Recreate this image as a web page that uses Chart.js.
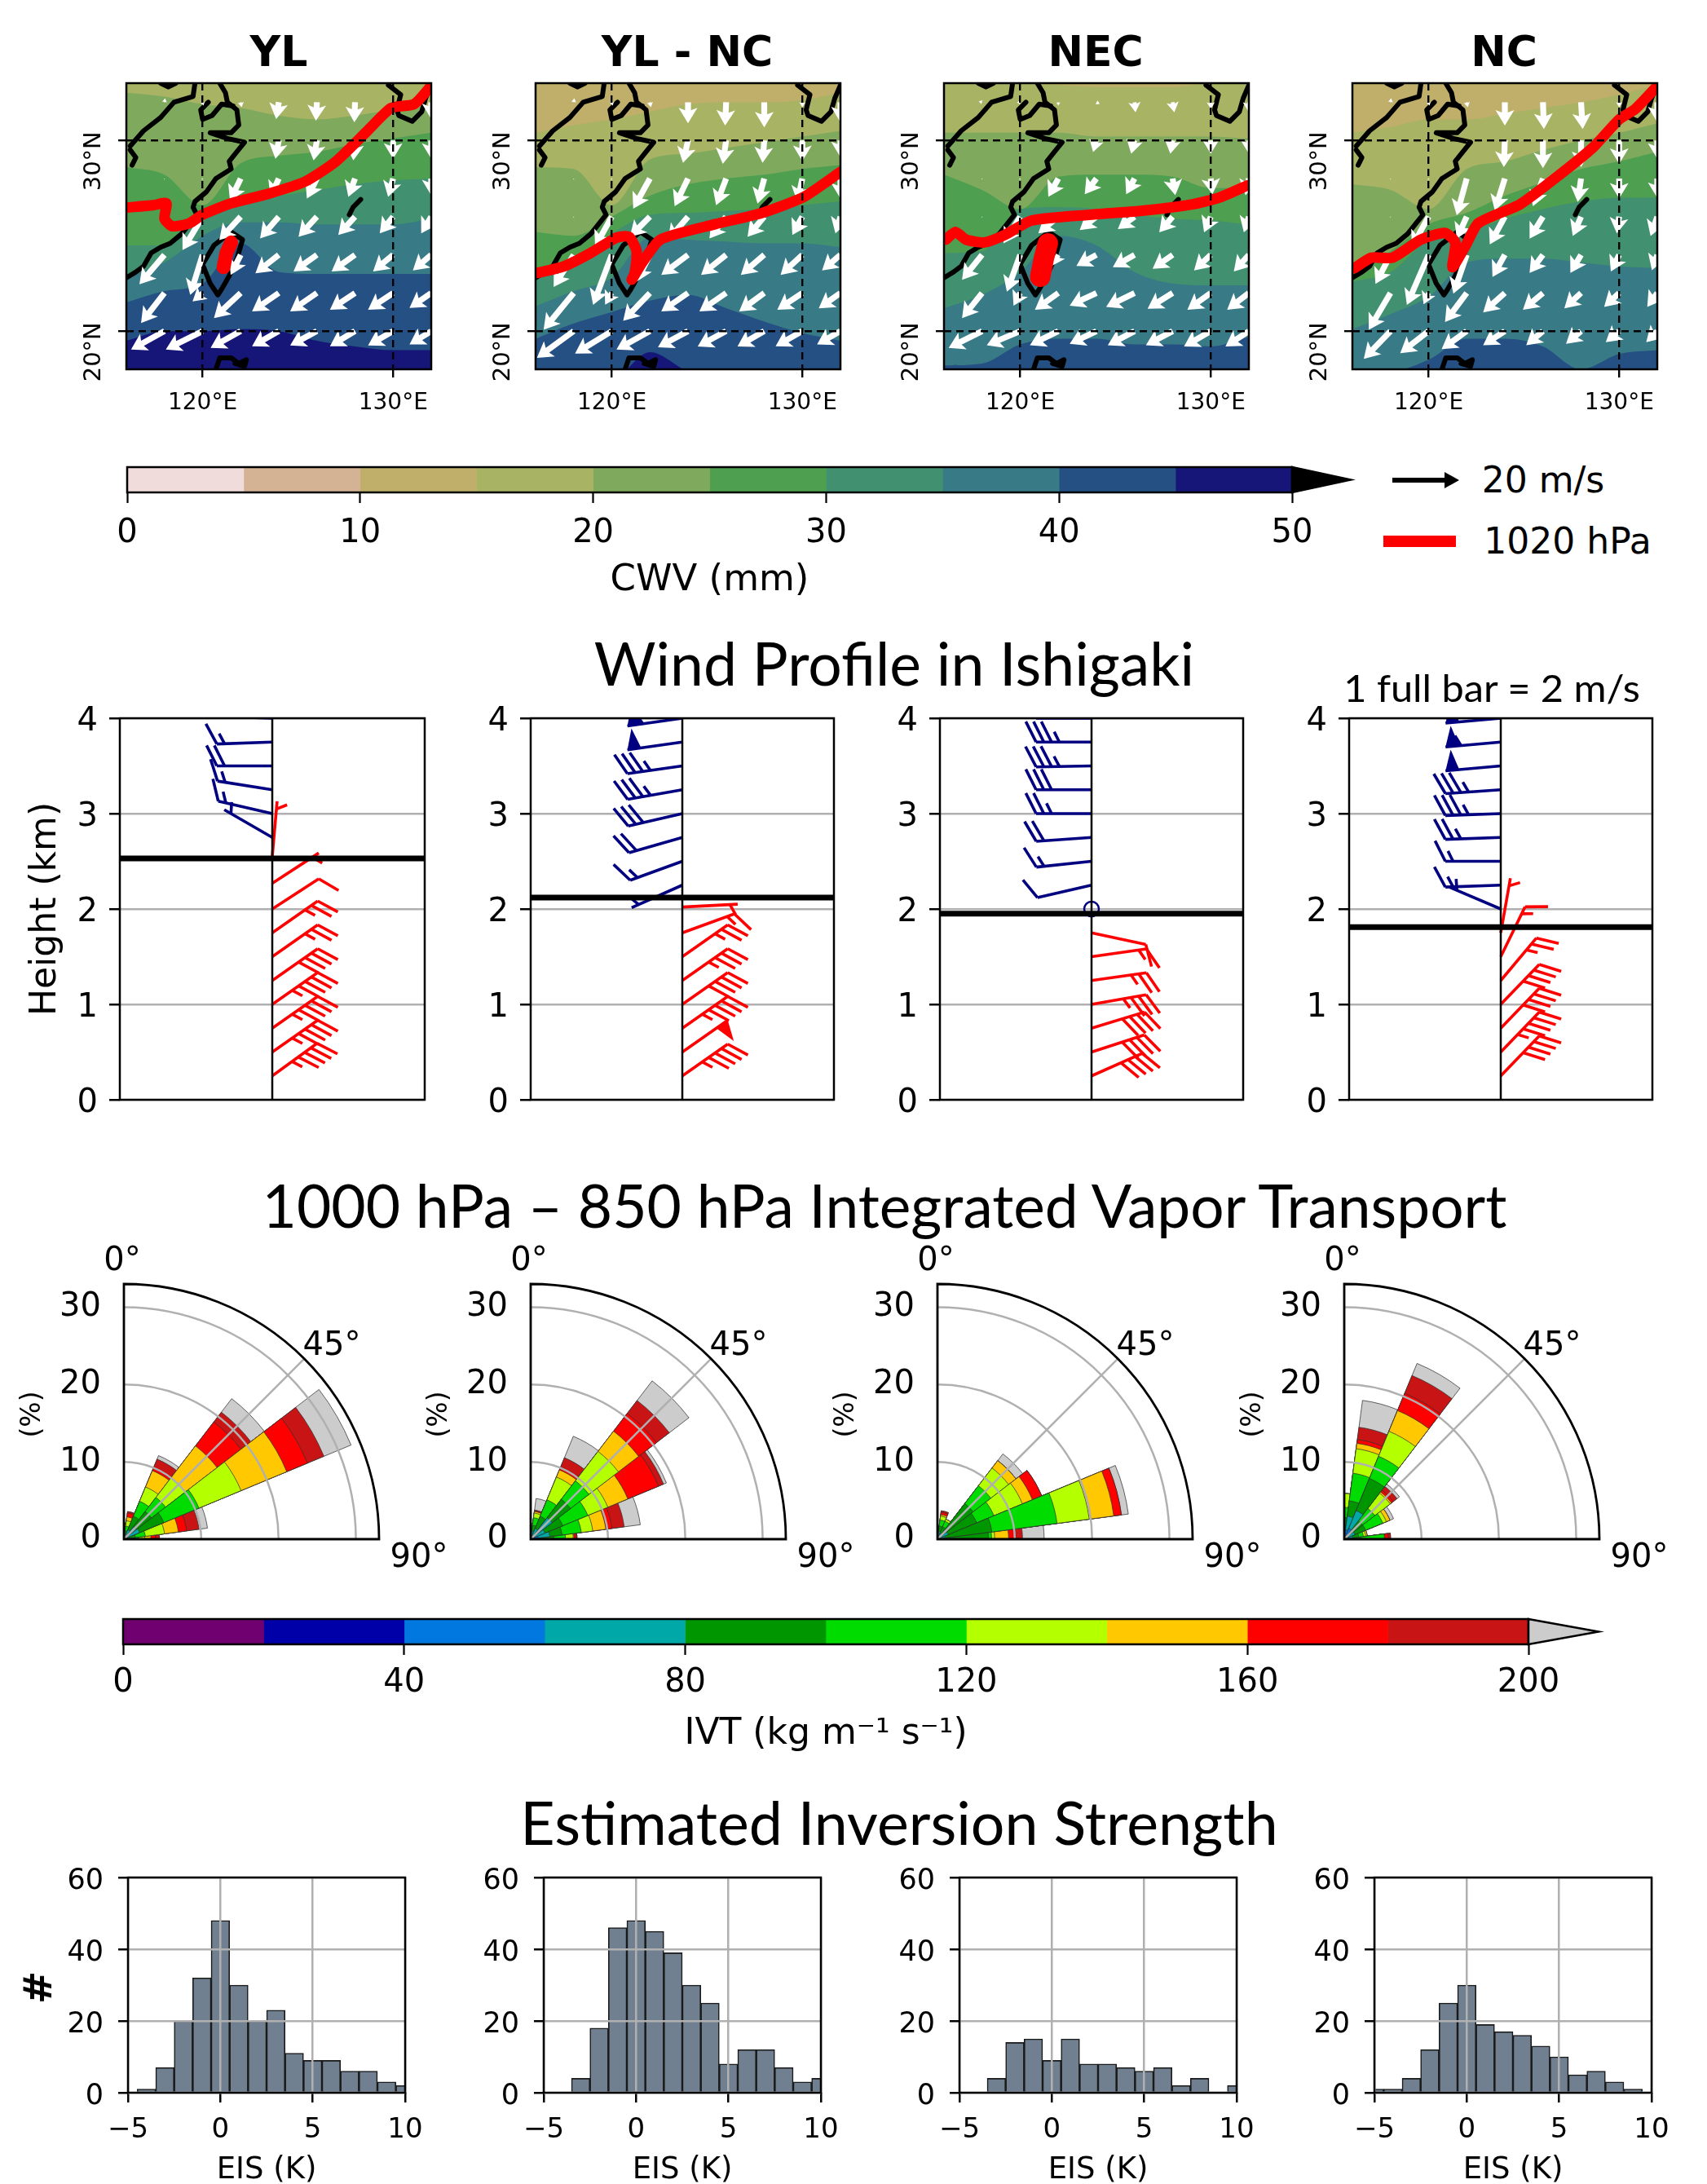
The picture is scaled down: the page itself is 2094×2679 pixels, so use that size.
<!DOCTYPE html>
<html>
<head>
<meta charset="utf-8">
<title>Composite chart</title>
<script src="https://cdn.jsdelivr.net/npm/chart.js@4"></script>
<style>
  html, body { margin: 0; padding: 0; background: #fff; }
  body { position: relative; width: 2094px; height: 2679px; overflow: hidden; font-family: "DejaVu Sans", sans-serif; color: #000; }
  canvas { position: absolute; }
  .txt { position: absolute; white-space: nowrap; line-height: 1; }
</style>
</head>
<body>
<script>
// ---- shared axes and colours
const panelNames = ['YL', 'YL - NC', 'NEC', 'NC'];
const cwvSteps = [5, 5, 5, 5, 5, 5, 5, 5, 5, 5];
const cwvColors = ['#F0DDDB', '#D4B294', '#BFAF6B', '#A9B364', '#7FAA5E', '#4E9F50', '#419170', '#387A85', '#255083', '#151677'];
const ivtSteps = [20, 20, 20, 20, 20, 20, 20, 20, 20, 20];
const ivtColors = ['#700070', '#0000A8', '#0078E0', '#00A8A8', '#009600', '#00DC00', '#B4FF00', '#FFC800', '#FF0000', '#C81414', '#CCCCCC'];
const gridGray = '#b0b0b0';

// ---- CWV contours: latitude of each band's north edge at these longitudes
const contourLons = [116, 118, 120, 122, 124, 126, 128, 130, 132];
const levelsYL = [15, 20, 25, 30, 35, 40, 45];
const contoursYL = [
  [33, 33, 33, 33, 33, 33, 33, 33, 33],
  [32.5, 32.3, 31.9, 31.7, 31.3, 31.1, 31.3, 31.6, 31.8],
  [28.6, 28.2, 26.6, 28.8, 29.2, 29.4, 29.8, 30.1, 30.4],
  [24.5, 24.5, 26.1, 26.9, 27.1, 27.4, 27.7, 27.9, 28.0],
  [22.9, 23.6, 25, 25.7, 25.7, 25.6, 25.6, 25.6, 25.9],
  [21.5, 22.1, 22.5, 24.6, 23.1, 23, 23, 23, 23],
  [19.5, 20, 20, 20.1, 20, 19.5, 19.2, 19, 19]
];
const levelsYLNC = [10, 15, 20, 25, 30, 35, 40, 45];
const contoursYLNC = [
  [33, 33, 33, 33, 33, 33, 33, 33, 33],
  [30.4, 30.8, 31.1, 31.5, 31.9, 32, 32, 32.1, 32.5],
  [28.6, 28.5, 26.6, 29, 29.3, 29.6, 29.9, 30.2, 30.5],
  [25.2, 25, 26, 27.1, 27.7, 28, 28.2, 28.5, 28.7],
  [23, 23.5, 25.1, 26.1, 26.2, 26.3, 26.4, 26.6, 26.8],
  [21.3, 22.1, 22.8, 24.9, 24.8, 24.7, 24.6, 24.6, 24.4],
  [19.6, 20.4, 21, 21.6, 21.9, 21.2, 20.5, 19.9, 19.5],
  [17.5, 17.5, 17.5, 18.9, 17.9, 17.5, 17.5, 17.5, 17.5]
];
const levelsNEC = [10, 15, 20, 25, 30, 35, 40];
const contoursNEC = [
  [33, 33, 33, 33, 33, 33, 33, 33, 33],
  [33, 33, 33, 32.9, 32.8, 32.8, 32.8, 33, 33],
  [30.4, 30.4, 30.4, 30.4, 30.2, 30.2, 30.2, 30.2, 30.1],
  [28.2, 27.4, 26.4, 28.1, 28.2, 28.2, 28.1, 27.5, 27.5],
  [24.1, 24.2, 26.4, 26.5, 26.4, 26.1, 25.9, 25.8, 25.6],
  [21.2, 21.9, 23.1, 25, 24.5, 23.1, 22.5, 22.4, 22.4],
  [18.2, 18.3, 19.3, 19.6, 19.6, 19.3, 19.3, 19.2, 19.7]
];
const levelsNC = [10, 15, 20, 25, 30, 35, 40];
const contoursNC = [
  [33, 33, 33, 33, 33, 33, 33, 33, 33],
  [30.4, 30.7, 31.1, 31.1, 31.4, 31.7, 32, 32.4, 32.9],
  [27.7, 27.4, 26.4, 28.5, 28.9, 29.5, 30, 30.4, 30.9],
  [23, 24.2, 25.6, 26.2, 27.1, 27.8, 28.5, 28.9, 29.4],
  [22.6, 23.1, 24.8, 25.2, 25.9, 26.4, 26.8, 27, 27],
  [20.1, 20.9, 21.8, 23.6, 23.8, 23.8, 23.6, 23.4, 23.3],
  [17.9, 17.9, 18.5, 19.6, 19.6, 19.2, 18, 18.8, 19]
];

// ---- coastlines, lon/lat
const coastChina = [[116, 22.8], [116.5, 23.1], [116.9, 23.4], [117.3, 24.1], [117.8, 24.4], [118.3, 24.6], [118.9, 25.1], [119.3, 25.6], [119.7, 26.1], [119.5, 26.5], [119.6, 26.8], [120.2, 27.3], [120.7, 28], [121.5, 28.5], [121.4, 28.9], [121.8, 29.4], [122.2, 29.9], [121.3, 30.1], [120.4, 30.4], [121.5, 30.4], [121.9, 30.8], [121.8, 31.6], [121.3, 32], [121.2, 32.5], [120.9, 33]];
const coastNorth = [[116.2, 29.7], [116.9, 30.5], [117.8, 31.2], [118.5, 32], [119.5, 32.3], [119.6, 33]];
const coastLake = [[120.3, 32], [119.9, 31.6], [120, 31.1], [120.5, 31.3], [121, 31.9], [121.6, 31.8]];
const coastPoyang = [[116.2, 29.5], [116.5, 29.1], [116.3, 28.7]];
const coastTaiwan = [[121.5, 25.2], [122.1, 24.8], [121.8, 23.8], [121.4, 22.9], [121, 22.2], [120.8, 21.9], [120.4, 22.5], [120, 23.5], [120.6, 24.5], [121.5, 25.2]];
const coastOkinawa = [[128.3, 26.9], [127.9, 26.5], [127.7, 26.1]];
const coastKyushu = [[129.75, 32.9], [130.4, 32.4], [130.2, 31.6], [130.3, 31.3], [131, 31], [131.5, 31.5], [131.7, 32.2], [132, 32.9]];
const coastLuzon = [[120.7, 18], [120.9, 18.6], [121.5, 18.6], [121.9, 18.3], [122.3, 18.5], [122.2, 18.15], [121.7, 18.3]];
const coastTopBump = [[117.8, 33], [118.2, 32.8], [118.6, 33]];
const coastLines = [coastChina, coastNorth, coastLake, coastPoyang, coastTaiwan, coastOkinawa, coastKyushu, coastLuzon, coastTopBump];

// ---- 1020 hPa isobars
const isobarYL = [[116.05, 26.48], [117.4, 26.6], [118.1, 26.7], [118, 25.9], [118.4, 25.5], [119.3, 25.65], [120, 26.1], [121.5, 26.7], [123.45, 27.2], [125.4, 27.85], [127, 28.9], [128.65, 30.5], [129.9, 31.7], [131.1, 31.9], [131.95, 32.8]];
const isobarYLNC = [[116.1, 23.05], [117.5, 23.4], [118.9, 24.1], [120.25, 24.9], [120.9, 24.95], [121.3, 24.2], [121.2, 23.05], [121.05, 22.7], [121.6, 23.6], [122.55, 24.8], [125.4, 25.6], [127.9, 26.2], [130.1, 27.05], [132, 28.35]];
const isobarNEC = [[116.1, 24.8], [116.6, 25.2], [117.15, 24.8], [118.1, 24.65], [119.2, 25.05], [120.6, 25.8], [123.6, 26.1], [126.3, 26.3], [129.05, 26.65], [130.45, 27], [131.95, 27.65]];
const isobarNC = [[116.1, 23.3], [117, 23.85], [118.1, 23.85], [119.6, 24.8], [120.85, 25.15], [121.4, 24.65], [121.25, 23.35], [121.95, 24.5], [122.6, 25.65], [124.8, 26.65], [126.75, 28.1], [128.65, 29.65], [130, 31.1], [130.85, 31.65], [132, 32.85]];
const blobYL = [[121.5, 24.65], [121.25, 24.1], [121.1, 23.35]];
const blobNEC = [[121.45, 24.6], [121.25, 23.85], [121.05, 22.85]];

// ---- wind arrows in m/s, rows are windLats, columns are windLons
const windLons = [118, 120, 122, 124, 126, 128, 130, 132];
const windLats = [32, 30, 28, 26, 24, 22, 20];
const windUYL = [
  [0.2, 0.3, 0.3, -0.8, -0.3, -0.2, 0, 0],
  [0, 0, 0, -1, -1, -0.5, 0, 0],
  [0, -0.2, -3.2, -2.5, -3, -2, -1.5, 0],
  [0, -6, -6.4, -5.6, -5.5, -5, -4, -3],
  [-7.5, -3.7, -3, -7, -7, -7, -6, -5.5],
  [-7, -3, -8, -8, -8, -7.5, -7.5, -6.5],
  [-10, -11, -9, -8, -8, -7.5, -7.5, -6.5]
];
const windVYL = [
  [1.2, -1, -1.5, -5, -5.5, -6, -1.5, -5],
  [-0.4, -0.4, -0.5, -5.5, -6, -6, -5.5, -5.5],
  [-0.3, -0.4, -6.7, -5.5, -6, -5.5, -5.5, -5],
  [-0.3, -10, -7, -6.5, -6, -5.5, -5, -5],
  [-8.8, -12, -6, -5.5, -5, -5, -5, -4.7],
  [-9, -2.5, -7.5, -5.5, -5.5, -5, -5, -4.5],
  [-5.5, -5.5, -5, -4.5, -4.3, -4.5, -4.3, -4]
];
const windUYLNC = [
  [0.2, 0.3, 0.3, 0, -0.3, 0, 0, 0],
  [0, 0, 0, -1.5, -1, -0.5, 0, 0],
  [0, -0.2, -5, -4, -3, -2, -1.5, 0],
  [0, -5, -6, -6, -5, -5, -3, -1.5],
  [-6, -5.6, -4, -8, -7.5, -7, -6.5, -5.5],
  [-9, -2, -8, -8, -8, -7.5, -7.5, -6.5],
  [-11, -11, -10, -9, -8.5, -8, -8, -7]
];
const windVYLNC = [
  [1.2, -1, -1.5, -6.3, -7, -7.5, -1.5, -6],
  [-0.4, -0.4, -0.5, -6.7, -7, -6.7, -6.2, -5],
  [-0.3, -0.4, -9, -8.3, -8, -7.5, -7, -6],
  [-0.3, -9, -6, -7, -6.5, -6, -5.5, -5],
  [-9.6, -15, -8, -6, -6, -6, -6, -4.7],
  [-11, -3.5, -8.3, -5.5, -5.5, -5.5, -5, -4.6],
  [-8, -6.7, -5.5, -4.8, -4.6, -4.6, -4.5, -4]
];
const windUNEC = [
  [-1, -1, 0, 1, 0.3, 0.5, 0, 0],
  [0, 0, 0, -1, -1, -0.7, 0, 0],
  [0, -0.2, -3, -3.5, -2.5, 0.8, 0.5, -1],
  [0, -5, -6, -5, -5, -4, -2, -1.5],
  [-6, -4, -2, -6, -6.5, -6, -5, -4.5],
  [-6, -2, -7, -8, -8.5, -7.5, -7, -6.5],
  [-10, -10, -8.5, -8, -8, -8, -8, -7]
];
const windVNEC = [
  [0.3, 0, -1, -0.5, -3, -3, -2, -3],
  [-0.4, -0.4, -0.5, -3.5, -4, -4, -4, -4],
  [-0.3, -0.4, -5.5, -4.7, -4.7, -5, -4.7, -5],
  [-0.3, -8, -5, -4, -3.7, -4.7, -4.7, -4.7],
  [-7.5, -11, -3.3, -3.3, -3.7, -4.2, -4.7, -5],
  [-7.5, -3.8, -5, -3.8, -4.2, -4.7, -5, -5],
  [-5, -4.2, -4.2, -3.8, -4.2, -4.2, -4.6, -4.6]
];
const windUNC = [
  [0.2, 0.3, 0.3, 0, 0.3, 0.5, 0, 0],
  [0, 0, 0, -0.3, 0, 0, 0, 0],
  [0, -0.2, -3, -3, -3, -1, 0, 0],
  [0, -5, -3, -4.5, -4, -2.5, -0.7, -2],
  [-4.5, -6.5, -4, -3.7, -4, -3.2, -2.5, -1.6],
  [-6.5, -1.5, -6.5, -6.5, -6, -5, -4.5, -3],
  [-8, -8.5, -7.5, -6.5, -5, -4.5, -4, -3.3]
];
const windVNC = [
  [1.2, -1, -1.5, -7, -8, -8, -1.5, -6],
  [-0.4, -0.4, -0.5, -8, -8.3, -8, -7, -5.5],
  [-0.3, -0.4, -11, -9.6, -8.3, -7, -6, -5.8],
  [-0.3, -9, -6.6, -8.3, -6.6, -5.8, -5, -5.8],
  [-8.7, -15, -11.6, -6.6, -5.4, -5.4, -5, -4.6],
  [-11, -3.4, -8.7, -5.8, -5, -4.6, -4.2, -4.2],
  [-8.3, -6.6, -5.4, -4.2, -4.2, -3.8, -3.3, -3.3]
];

// ---- Ishigaki wind barbs: height km, direction deg, speed m/s
const blueHYL = [4, 3.75, 3.5, 3.25, 3, 2.75];
const blueDirYL = [272, 268, 270, 279, 283, 300];
const blueSpdYL = [3, 3, 4, 3, 3, 1];
const redHYL = [2.55, 2.27, 2, 1.75, 1.5, 1.25, 1, 0.75, 0.5, 0.25];
const redDirYL = [5, 57, 57, 55, 55, 55, 55, 55, 55, 54];
const redSpdYL = [1, 1, 2, 5, 5, 8, 9, 9, 9, 9];
const blueHYLNC = [4, 3.75, 3.5, 3.25, 3, 2.75, 2.5, 2.25];
const blueDirYLNC = [262, 262, 262, 260, 257, 254, 250, 246];
const blueSpdYLNC = [12, 10, 7, 7, 6, 4, 3, 1];
const redHYLNC = [2.02, 1.75, 1.5, 1.25, 1, 0.75, 0.5, 0.25];
const redDirYLNC = [87, 70, 55, 55, 55, 55, 55, 55];
const redSpdYLNC = [1, 3, 5, 7, 8, 9, 10, 9];
const blueHNEC = [4, 3.75, 3.5, 3.25, 3, 2.75, 2.5, 2.25, 2];
const blueDirNEC = [270, 270, 269, 270, 270, 266, 264, 257, 0];
const blueSpdNEC = [7, 7, 7, 6, 5, 4, 3, 2, 0];
const redHNEC = [1.75, 1.5, 1.25, 1, 0.75, 0.5, 0.25];
const redDirNEC = [102, 82, 82, 80, 73, 72, 66];
const redSpdNEC = [2, 3, 5, 7, 8, 8, 8];
const blueHNC = [4, 3.75, 3.5, 3.25, 3, 2.75, 2.5, 2.25, 2];
const blueDirNC = [265, 265, 265, 266, 268, 268, 270, 268, 293];
const blueSpdNC = [10, 11, 10, 7, 7, 5, 3, 3, 1];
const redHNC = [1.75, 1.5, 1.25, 1, 0.75, 0.5, 0.25];
const redDirNC = [10, 26, 40, 44, 44, 44, 44];
const redSpdNC = [1, 3, 5, 8, 8, 9, 8];
const inversionHeights = [2.53, 2.12, 1.95, 1.81];

// ---- IVT roses: rows are direction bins, columns are ivtColors classes (% frequency)
const roseDirs = [0, 15, 30, 45, 60, 75, 90];
const roseYL = [
  [0, .1, .1, .2, .3, .4, .5, .3, .2, 0, 0],
  [0, .1, .2, .3, .5, .6, .7, .5, .5, .2, 0],
  [0, 0, .3, 1, 1.9, 2.1, 2, 2.3, .3, 1.3, .5],
  [0, 0, .4, 1.6, 2.5, 2.3, 3.2, 5.2, 3.9, 1.6, 2.2],
  [0, 0, .5, 1.7, 3.4, 4.9, 5.9, 6.4, 2.9, 2.3, 3.8],
  [0, 0, .2, .3, 1, 1.3, 2.5, 1.8, 1.1, 1.6, 1.1],
  [0, 0, .2, .3, .6, .8, .8, .8, .6, .5, 0]
];
const roseYLNC = [
  [0, 0, .3, .5, .5, .5, .2, 0, 0, 0, 0],
  [0, 0, .3, .7, .8, 1, .6, .2, .1, .1, 1.5],
  [0, 0, .3, 1.2, 1.7, 2.3, 3.2, 1, .4, 1.3, 3],
  [0, 0, .5, 3, 3, 3, 4.8, 3.3, 2.9, 2.1, 3.2],
  [0, 0, .4, 1.6, 2.5, 3.5, 2.8, 2.8, 4.3, .7, .4],
  [0, 0, 1, 1.5, 1.6, 2.5, 1.5, 1.7, .8, 1.6, 2.1],
  [0, 0, .5, 1, 1.5, 1.5, 1, .1, .3, .1, 0]
];
const roseNEC = [
  [0, .1, .2, .5, .6, .2, 0, 0, 0, 0, 0],
  [0, .1, .3, .6, .7, .8, .5, .2, .3, .2, 0],
  [0, 0, .2, .6, .9, .8, .3, 0, 0, 0, 0],
  [0, 0, .4, 1.1, 4.3, 2.9, 2.9, 1.2, 0, 0, 1.1],
  [0, 0, .4, 1.1, 4, 2.4, 4, 1.4, 1.3, 0, 0],
  [0, 0, .3, .7, 6.1, 8.5, 4.2, 3.2, 1, 0, .9],
  [0, 0, .3, 1.2, 5.1, .4, .4, 1.8, .9, .9, 2.8]
];
const roseNC = [
  [0, .1, .5, 1, 1.2, 1.3, 1.8, 0, 0, 0, 0],
  [0, .2, 1, 1.8, 2, 3.6, 3.2, .7, .5, 1.6, 3.5],
  [0, .3, 1.2, 2.5, 4.5, 3.1, 3.5, 2.9, 2.4, 2.5, 1.7],
  [0, .1, .4, 1, 1.5, 2, 2.5, .2, .3, .6, .4],
  [0, .1, .4, 1, 1.5, 2.4, .5, .5, 0, 0, .5],
  [0, .1, .4, .6, .8, .6, .3, .2, 0, 0, 0],
  [0, 0, .4, .8, 1, 3, 0, 0, .5, .3, 0]
];
const roseTicks = [0, 10, 20, 30];

// ---- EIS histograms
const eisBins = [-5, -4, -3, -2, -1, 0, 1, 2, 3, 4, 5, 6, 7, 8, 9, 10];
const eisYL = [0, 1, 7, 20, 32, 48, 30, 20, 23, 11, 9, 9, 6, 6, 3, 2];
const eisYLNC = [0, 0, 4, 18, 46, 48, 45, 39, 30, 25, 8, 12, 12, 7, 3, 4];
const eisNEC = [0, 0, 4, 14, 15, 9, 15, 8, 8, 7, 6, 7, 2, 4, 0, 2];
const eisNC = [1, 1, 4, 12, 25, 30, 19, 17, 16, 13, 10, 5, 6, 3, 1, 0];

Chart.defaults.font.family = '"DejaVu Sans"';
Chart.defaults.color = '#000';
Chart.defaults.animation = false;
Chart.defaults.responsive = false;
Chart.defaults.plugins.legend.display = false;
Chart.defaults.plugins.tooltip.enabled = false;

const pts = list => list.map(p => ({ x: p[0], y: p[1] }));

function makeCanvas(x, y, w, h, m) {
  const c = document.createElement('canvas');
  c.width = m.l + w + m.r;
  c.height = m.t + h + m.b;
  c.style.left = (x - m.l) + 'px';
  c.style.top = (y - m.t) + 'px';
  document.body.appendChild(c);
  return c;
}

function text(str, cx, cy, size, extra) {
  const o = extra || {};
  const el = document.createElement('div');
  el.className = 'txt';
  el.textContent = str;
  el.style.fontSize = size + 'px';
  if (o.bold) el.style.fontWeight = 'bold';
  if (o.family) el.style.fontFamily = o.family;
  el.style.left = cx + 'px';
  el.style.top = cy + 'px';
  document.body.appendChild(el);
  let sx = 1;
  if (o.fitWidth) sx = o.fitWidth / el.offsetWidth;
  el.style.transform = 'translate(-50%,-50%) rotate(' + (o.rot || 0) + 'deg) scaleX(' + sx + ')';
  return el;
}

const framePlugin = {
  id: 'frame',
  afterDraw(chart) {
    const a = chart.chartArea, ctx = chart.ctx;
    ctx.save();
    ctx.strokeStyle = '#000';
    ctx.lineWidth = 2.5;
    ctx.strokeRect(a.left, a.top, a.right - a.left, a.bottom - a.top);
    ctx.restore();
  }
};

// quiver style arrows, drawn right after the dataset holding the wind grid
const arrowPlugin = {
  id: 'arrows',
  afterDatasetDraw(chart, args) {
    const ds = chart.data.datasets[args.index];
    if (!ds.isWind) return;
    const ctx = chart.ctx, a = chart.chartArea, meta = args.meta;
    const pxPerMs = 4.1;
    ctx.save();
    ctx.beginPath();
    ctx.rect(a.left, a.top, a.right - a.left, a.bottom - a.top);
    ctx.clip();
    ctx.fillStyle = '#fff';
    meta.data.forEach((pt, i) => {
      const d = ds.data[i];
      const dx = d.u * pxPerMs, dy = -d.v * pxPerMs;
      const len = Math.hypot(dx, dy);
      if (!len) return;
      const f = Math.min(1, len / 19);
      const hl = 19 * f, hw = 11.5 * f, sw = 3.6 * f, ha = 16 * f;
      ctx.save();
      ctx.translate(pt.x, pt.y);
      ctx.rotate(Math.atan2(dy, dx));
      ctx.beginPath();
      ctx.moveTo(0, -sw);
      ctx.lineTo(len - ha, -sw);
      ctx.lineTo(len - hl, -hw);
      ctx.lineTo(len, 0);
      ctx.lineTo(len - hl, hw);
      ctx.lineTo(len - ha, sw);
      ctx.lineTo(0, sw);
      ctx.closePath();
      ctx.fill();
      ctx.restore();
    });
    ctx.restore();
  }
};

function drawBarb(ctx, x, y, dir, spd, color) {
  const L = 68, H = 0.37 * L, step = 9.5;
  const rad = dir * Math.PI / 180;
  const ax = Math.sin(rad), ay = -Math.cos(rad);
  const px = -ay, py = ax;
  ctx.strokeStyle = color;
  ctx.fillStyle = color;
  if (spd === 0) {
    ctx.lineWidth = 2.5;
    ctx.beginPath();
    ctx.arc(x, y, 9, 0, Math.PI * 2);
    ctx.stroke();
    return;
  }
  ctx.beginPath();
  ctx.moveTo(x, y);
  ctx.lineTo(x + ax * L, y + ay * L);
  ctx.stroke();
  let rest = spd, off = 0;
  const flags = Math.floor(rest / 10); rest -= flags * 10;
  const fulls = Math.floor(rest / 2); rest -= fulls * 2;
  for (let i = 0; i < flags; i++) {
    const w = 17;
    const sx = x + ax * (L - off), sy = y + ay * (L - off);
    ctx.beginPath();
    ctx.moveTo(sx, sy);
    ctx.lineTo(sx + px * H - ax * w / 2, sy + py * H - ay * w / 2);
    ctx.lineTo(sx - ax * w, sy - ay * w);
    ctx.closePath();
    ctx.fill();
    off += w + 2;
  }
  for (let i = 0; i < fulls; i++) {
    const sx = x + ax * (L - off), sy = y + ay * (L - off);
    ctx.beginPath();
    ctx.moveTo(sx, sy);
    ctx.lineTo(sx + px * H + ax * H / 2, sy + py * H + ay * H / 2);
    ctx.stroke();
    off += step;
  }
  if (rest > 0) {
    if (off === 0) off = step;
    const sx = x + ax * (L - off), sy = y + ay * (L - off);
    ctx.beginPath();
    ctx.moveTo(sx, sy);
    ctx.lineTo(sx + px * H / 2 + ax * H / 4, sy + py * H / 2 + ay * H / 4);
    ctx.stroke();
  }
}

const barbPlugin = {
  id: 'barbs',
  beforeDatasetsDraw(chart) {
    const ctx = chart.ctx, a = chart.chartArea;
    ctx.save();
    ctx.beginPath();
    ctx.rect(a.left, a.top, a.right - a.left, a.bottom - a.top);
    ctx.clip();
    chart.data.datasets.forEach((ds, di) => {
      if (!ds.barbColor) return;
      chart.getDatasetMeta(di).data.forEach((pt, i) => {
        ctx.lineWidth = 3.6;
        drawBarb(ctx, pt.x, pt.y, ds.barbDir[i], ds.barbSpd[i], ds.barbColor);
      });
    });
    ctx.restore();
  }
};

// quadrant clip and the frame of the quarter rose
const quadrantPlugin = {
  id: 'quadrant',
  beforeDraw(chart) {
    const s = chart.scales.r, ctx = chart.ctx;
    ctx.save();
    ctx.beginPath();
    ctx.rect(s.xCenter, s.yCenter - s.drawingArea - 2, s.drawingArea + 4, s.drawingArea + 2);
    ctx.clip();
  },
  afterDraw(chart) {
    const s = chart.scales.r, ctx = chart.ctx;
    ctx.restore();
    const xc = s.xCenter, yc = s.yCenter, R = s.drawingArea;
    ctx.save();
    ctx.strokeStyle = gridGray;
    ctx.lineWidth = 2.5;
    ctx.beginPath();
    ctx.moveTo(xc, yc);
    ctx.lineTo(xc + R * Math.SQRT1_2, yc - R * Math.SQRT1_2);
    ctx.stroke();
    ctx.strokeStyle = '#000';
    ctx.lineWidth = 2.8;
    ctx.beginPath();
    ctx.moveTo(xc, yc);
    ctx.lineTo(xc, yc - R);
    ctx.arc(xc, yc, R, -Math.PI / 2, 0);
    ctx.closePath();
    ctx.stroke();
    ctx.fillStyle = '#000';
    ctx.font = '40px "DejaVu Sans"';
    ctx.textAlign = 'right';
    ctx.textBaseline = 'middle';
    roseTicks.forEach(v => {
      ctx.fillText(String(v), xc - 28, yc - s.getDistanceFromCenterForValue(v));
    });
    ctx.textAlign = 'center';
    ctx.fillText('0°', xc - 2, yc - 340);
    ctx.fillText('45°', xc + 255, yc - 236);
    ctx.fillText('90°', xc + 362, yc + 24);
    ctx.font = '33px "DejaVu Sans"';
    ctx.translate(xc - 112, yc - 153);
    ctx.rotate(-Math.PI / 2);
    ctx.fillText('(%)', 0, 0);
    ctx.restore();
  }
};

// the over-range triangle of a colourbar
const extendPlugin = {
  id: 'extend',
  afterDraw(chart, args, opts) {
    const a = chart.chartArea, ctx = chart.ctx;
    ctx.save();
    ctx.fillStyle = opts.color;
    ctx.strokeStyle = '#000';
    ctx.lineWidth = 2.5;
    ctx.beginPath();
    ctx.moveTo(a.right, a.top);
    ctx.lineTo(a.right + opts.length, (a.top + a.bottom) / 2);
    ctx.lineTo(a.right, a.bottom);
    ctx.closePath();
    ctx.fill();
    ctx.stroke();
    ctx.restore();
  }
};

// ---- top row, maps
function mapChart(x, levels, contours, windU, windV, isobar, blob, blobWidth) {
  const m = { l: 70, t: 60, r: 50, b: 60 };
  const datasets = [];
  contours.forEach((lats, i) => {
    datasets.push({
      data: lats.map((lat, j) => ({ x: contourLons[j], y: lat })),
      showLine: true, borderWidth: 0, pointRadius: 0,
      backgroundColor: cwvColors[levels[i] / 5],
      fill: 'start',
      cubicInterpolationMode: 'monotone',
      order: 100 - i
    });
  });
  coastLines.forEach(line => {
    datasets.push({ data: pts(line), showLine: true, borderColor: '#000', borderWidth: 6, pointRadius: 0, borderJoinStyle: 'round', borderCapStyle: 'round', order: 4 });
  });
  const grid = [];
  windLats.forEach((lat, r) => windLons.forEach((lon, c) => grid.push({ x: lon, y: lat, u: windU[r][c], v: windV[r][c] })));
  datasets.push({ data: grid, isWind: true, showLine: false, pointRadius: 0, order: 3 });
  datasets.push({ data: pts(isobar), showLine: true, borderColor: '#FF0000', borderWidth: 13, pointRadius: 0, borderJoinStyle: 'round', borderCapStyle: 'round', tension: 0.2, order: 2 });
  if (blob) datasets.push({ data: pts(blob), showLine: true, borderColor: '#FF0000', borderWidth: blobWidth, pointRadius: 0, borderCapStyle: 'round', order: 1 });

  const gridOpt = { color: '#000', lineWidth: 2.4, z: 1, tickColor: '#000', tickWidth: 2.4, tickLength: 10, tickBorderDash: [] };
  new Chart(makeCanvas(x, 102, 374, 351, m), {
    type: 'scatter',
    data: { datasets },
    options: {
      layout: { padding: { top: m.t, right: m.r } },
      scales: {
        x: {
          type: 'linear', min: 116, max: 132,
          afterBuildTicks: s => { s.ticks = [{ value: 120 }, { value: 130 }]; },
          afterFit: s => { s.height = m.b; },
          grid: gridOpt, border: { display: false, dash: [9, 6] },
          ticks: { font: { size: 28 }, padding: 15, autoSkip: false, maxRotation: 0, callback: v => v + '°E' }
        },
        y: {
          type: 'linear', min: 18, max: 33,
          afterBuildTicks: s => { s.ticks = [{ value: 20 }, { value: 30 }]; },
          afterFit: s => { s.width = m.l; },
          grid: gridOpt, border: { display: false, dash: [9, 6] },
          ticks: { font: { size: 29 }, padding: 30, autoSkip: false, minRotation: 90, maxRotation: 90, labelOffset: -11, callback: v => v + '°N' }
        }
      }
    },
    plugins: [arrowPlugin, framePlugin]
  });
}
mapChart(155, levelsYL, contoursYL, windUYL, windVYL, isobarYL, blobYL, 17);
mapChart(657, levelsYLNC, contoursYLNC, windUYLNC, windVYLNC, isobarYLNC, null, 0);
mapChart(1158, levelsNEC, contoursNEC, windUNEC, windVNEC, isobarNEC, blobNEC, 25);
mapChart(1659, levelsNC, contoursNC, windUNC, windVNC, isobarNC, null, 0);
[342, 843, 1344, 1845].forEach((cx, i) => text(panelNames[i], cx, 63, 52, { bold: true }));

// ---- colourbars
function colorBar(x, y, w, h, steps, colors, axisMax, tickStep, label, labelSize, extendColor, extendLen, tickPad, mb) {
  const m = { l: 60, t: 6, r: 110, b: mb };
  new Chart(makeCanvas(x, y, w, h, m), {
    type: 'bar',
    data: {
      labels: [label],
      datasets: steps.map((v, i) => ({ data: [v], backgroundColor: colors[i], barPercentage: 1, categoryPercentage: 1 }))
    },
    options: {
      indexAxis: 'y',
      layout: { padding: { left: m.l, top: m.t, right: m.r } },
      scales: {
        y: { stacked: true, display: false },
        x: {
          stacked: true, min: 0, max: axisMax,
          afterFit: s => { s.height = m.b; },
          grid: { drawOnChartArea: false, tickColor: '#000', tickWidth: 2.2, tickLength: 13 },
          border: { display: false },
          ticks: { stepSize: tickStep, font: { size: 40 }, padding: tickPad, maxRotation: 0 },
          title: { display: true, text: label, font: { size: labelSize }, padding: 0 }
        }
      },
      plugins: { extend: { color: extendColor, length: extendLen } }
    },
    plugins: [framePlugin, extendPlugin]
  });
}
colorBar(156, 573, 1429, 31, cwvSteps, cwvColors, 50, 10, 'CWV (mm)', 45, '#000', 72, 14, 135);
colorBar(151, 1986, 1724, 31, ivtSteps, ivtColors, 200, 40, 'IVT (kg m⁻¹ s⁻¹)', 44, ivtColors[10], 86, 11, 137);

// legend keys
const keyArrow = document.createElementNS('http://www.w3.org/2000/svg', 'svg');
keyArrow.setAttribute('width', '90');
keyArrow.setAttribute('height', '24');
keyArrow.style.cssText = 'position:absolute;left:1706px;top:577px';
keyArrow.innerHTML = '<polygon points="2,9 66,9 66,2 84,12 66,22 66,15 2,15" fill="#000"/>';
document.body.appendChild(keyArrow);
const keyLine = document.createElement('div');
keyLine.style.cssText = 'position:absolute;left:1697px;top:657px;width:89px;height:14px;background:#FF0000';
document.body.appendChild(keyLine);
text('20 m/s', 1893, 589, 44);
text('1020 hPa', 1923, 664, 44);

// ---- Ishigaki wind profiles
function windChart(x, w, cfg) {
  const first = cfg.first;
  const m = { l: first ? 117 : 70, t: 45, r: 10, b: 45 };
  new Chart(makeCanvas(x, 881, w, 468.5, m), {
    type: 'scatter',
    data: {
      datasets: [
        { data: [{ x: -1, y: cfg.inv }, { x: 1, y: cfg.inv }], showLine: true, borderColor: '#000', borderWidth: 7, pointRadius: 0 },
        { data: [{ x: 0, y: 0 }, { x: 0, y: 4 }], showLine: true, borderColor: '#000', borderWidth: 2.5, pointRadius: 0 },
        { data: cfg.blueH.map(h => ({ x: 0, y: h })), barbColor: '#000080', barbDir: cfg.blueDir, barbSpd: cfg.blueSpd, pointRadius: 0 },
        { data: cfg.redH.map(h => ({ x: 0, y: h })), barbColor: '#FF0000', barbDir: cfg.redDir, barbSpd: cfg.redSpd, pointRadius: 0 }
      ]
    },
    options: {
      layout: { padding: { top: m.t, right: m.r, bottom: m.b } },
      scales: {
        x: { type: 'linear', min: -1, max: 1, display: false },
        y: {
          type: 'linear', min: 0, max: 4,
          afterFit: s => { s.width = m.l; },
          grid: { color: gridGray, lineWidth: 2.5, tickColor: '#000', tickWidth: 2.5, tickLength: 13 },
          border: { display: false },
          ticks: { stepSize: 1, font: { size: 40 }, padding: 14, labelOffset: 5 },
          title: { display: first, text: 'Height (km)', font: { size: 44 }, padding: 0 }
        }
      }
    },
    plugins: [barbPlugin, framePlugin]
  });
}
windChart(147, 374, { first: true, inv: inversionHeights[0], blueH: blueHYL, blueDir: blueDirYL, blueSpd: blueSpdYL, redH: redHYL, redDir: redDirYL, redSpd: redSpdYL });
windChart(651, 372, { inv: inversionHeights[1], blueH: blueHYLNC, blueDir: blueDirYLNC, blueSpd: blueSpdYLNC, redH: redHYLNC, redDir: redDirYLNC, redSpd: redSpdYLNC });
windChart(1153, 372, { inv: inversionHeights[2], blueH: blueHNEC, blueDir: blueDirNEC, blueSpd: blueSpdNEC, redH: redHNEC, redDir: redDirNEC, redSpd: redSpdNEC });
windChart(1655, 372, { inv: inversionHeights[3], blueH: blueHNC, blueDir: blueDirNC, blueSpd: blueSpdNC, redH: redHNC, redDir: redDirNC, redSpd: redSpdNC });

// ---- IVT quarter roses, one polarArea dataset per class holding the running total
function roseChart(cx, rows) {
  const R = 313, pad = 150, cy = 1888;
  const labels = Array.from({ length: 24 }, (_, i) => String(i * 15));
  const datasets = ivtColors.map((col, k) => ({
    data: labels.map((_, b) => {
      const d = roseDirs.indexOf(b * 15);
      if (d < 0) return 0;
      return rows[d].slice(0, k + 1).reduce((s, v) => s + v, 0);
    }),
    backgroundColor: col,
    borderColor: 'rgba(50,50,50,0.75)',
    borderWidth: 1
  }));
  new Chart(makeCanvas(cx - R, cy - R, 2 * R, 2 * R, { l: pad, t: pad, r: pad, b: pad }), {
    type: 'polarArea',
    data: { labels, datasets },
    options: {
      layout: { padding: pad },
      scales: {
        r: {
          min: 0, max: 33, startAngle: -7.5,
          afterBuildTicks: s => { s.ticks = s.ticks.filter(t => t.value <= 30); },
          ticks: { display: false, stepSize: 10 },
          grid: { color: gridGray, lineWidth: 2.5, circular: true, z: 1 },
          angleLines: { display: false },
          pointLabels: { display: false }
        }
      }
    },
    plugins: [quadrantPlugin]
  });
}
roseChart(152, roseYL);
roseChart(651, roseYLNC);
roseChart(1150, roseNEC);
roseChart(1649, roseNC);

// ---- EIS histograms
function histChart(x, values) {
  const m = { l: 90, t: 50, r: 40, b: 118 };
  new Chart(makeCanvas(x, 2303, 340, 264, m), {
    type: 'bar',
    data: {
      datasets: [{
        data: eisBins.map((b, i) => ({ x: b, y: values[i] })),
        backgroundColor: '#708090',
        borderColor: '#1a1a1a',
        borderWidth: 1.6,
        barPercentage: 1,
        categoryPercentage: 1
      }]
    },
    options: {
      layout: { padding: { top: m.t, right: m.r } },
      scales: {
        x: {
          type: 'linear', min: -5, max: 10, offset: false,
          afterFit: s => { s.height = m.b; },
          grid: { offset: false, color: gridGray, lineWidth: 2.5, z: 1, tickColor: '#000', tickWidth: 2.5, tickLength: 12 },
          border: { display: false },
          ticks: { stepSize: 5, font: { size: 34 }, padding: 14, maxRotation: 0, callback: v => (v < 0 ? '−' + Math.abs(v) : String(v)) },
          title: { display: true, text: 'EIS (K)', font: { size: 37 }, padding: 0 }
        },
        y: {
          min: 0, max: 60,
          afterFit: s => { s.width = m.l; },
          grid: { color: gridGray, lineWidth: 2.5, z: 1, tickColor: '#000', tickWidth: 2.5, tickLength: 12 },
          border: { display: false },
          ticks: { stepSize: 20, font: { size: 35 }, padding: 18, labelOffset: 5 }
        }
      }
    },
    plugins: [framePlugin]
  });
}
histChart(157, eisYL);
histChart(667, eisYLNC);
histChart(1177, eisNEC);
histChart(1686, eisNC);
text('#', 46, 2438, 48, { bold: true, rot: -90 });

// ---- section titles
const titleFont = 'Lato, "Open Sans", sans-serif';
text('Wind Profile in Ishigaki', 1097, 813, 74, { family: titleFont, fitWidth: 736 });
text('1 full bar = 2 m/s', 1830, 844, 46, { family: titleFont, fitWidth: 364 });
text('1000 hPa – 850 hPa Integrated Vapor Transport', 1085, 1478, 74, { family: titleFont, fitWidth: 1527 });
text('Estimated Inversion Strength', 1103, 2235, 74, { family: titleFont, fitWidth: 929 });
</script>
</body>
</html>
